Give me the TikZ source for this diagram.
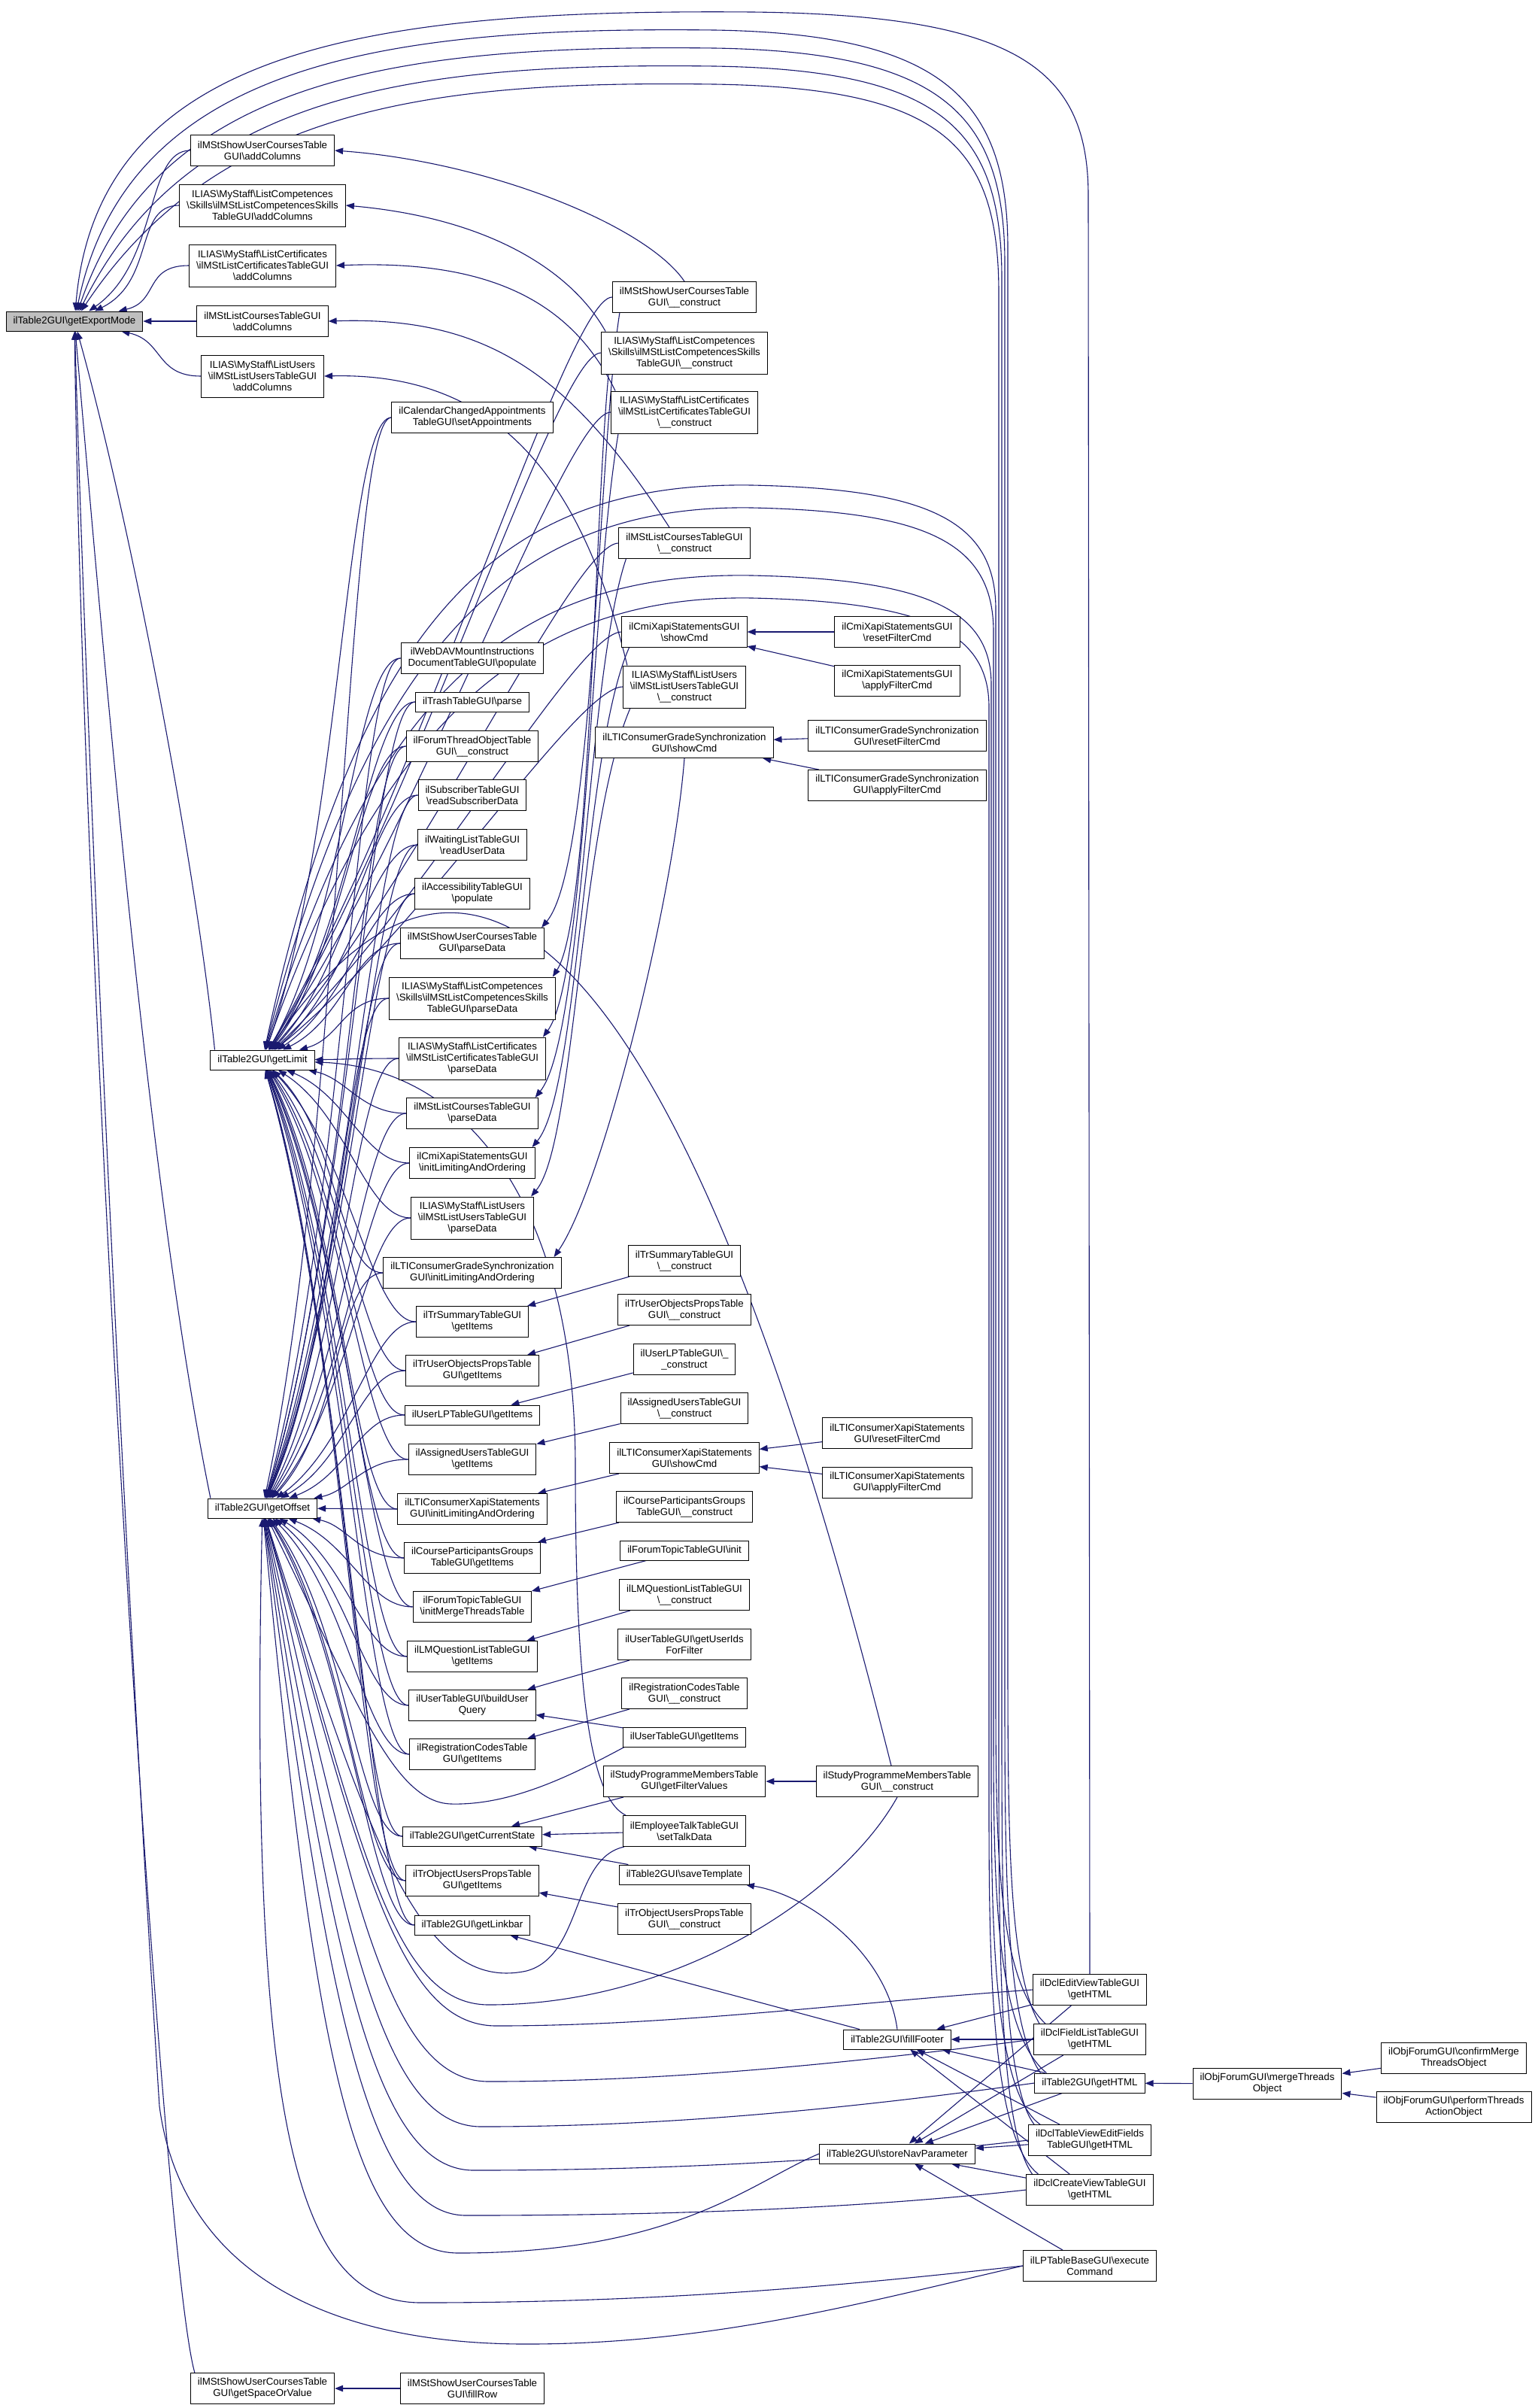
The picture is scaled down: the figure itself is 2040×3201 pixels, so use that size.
\documentclass[tikz,border=0pt]{standalone}
\usepackage{fontspec}
\setmainfont{Liberation Sans}
\usetikzlibrary{arrows.meta,calc}
\pgfdeclarelayer{bg}
\pgfsetlayers{bg,main}
\definecolor{navy}{RGB}{25,25,112}
\newcommand{\bs}{\textbackslash}
\newcommand{\fan}[2]{\draw[call] (#1.west) .. controls +(-60,0) and ($(#2.east)!0.35!(#1.west)$) .. (#2);}
\begin{document}
\begin{tikzpicture}[x=1pt,y=-1pt,
  fn/.style={draw=black,line width=1pt,fill=white,align=center,inner xsep=9.5pt,inner ysep=1pt,font=\fontsize{13.3}{15}\selectfont},
  boxa/.style={fn,minimum height=26pt},
  boxb/.style={fn,minimum height=41pt},
  boxc/.style={fn,minimum height=56pt},
  call/.style={draw=navy,line width=1.1pt,-{Triangle[length=11pt,width=8.5pt]}}]
\useasboundingbox (0,0) rectangle (2040,3201);
% ---------- nodes ----------
\node[boxa,fill=gray!50] (r) at (99,427) {ilTable2GUI\bs getExportMode};
% column B
\node[boxb] (b1) at (349,200) {ilMStShowUserCoursesTable\\GUI\bs addColumns};
\node[boxc] (b2) at (349,273) {ILIAS\bs MyStaff\bs ListCompetences\\\bs Skills\bs ilMStListCompetencesSkills\\TableGUI\bs addColumns};
\node[boxc] (b3) at (349,353) {ILIAS\bs MyStaff\bs ListCertificates\\\bs ilMStListCertificatesTableGUI\\\bs addColumns};
\node[boxb] (b4) at (349,427) {ilMStListCoursesTableGUI\\\bs addColumns};
\node[boxc] (b5) at (349,500) {ILIAS\bs MyStaff\bs ListUsers\\\bs ilMStListUsersTableGUI\\\bs addColumns};
\node[boxa] (lim) at (349,1409) {ilTable2GUI\bs getLimit};
\node[boxa] (off) at (349,2005) {ilTable2GUI\bs getOffset};
\node[boxb] (sov) at (349,3175) {ilMStShowUserCoursesTable\\GUI\bs getSpaceOrValue};
% column C
\node[boxb] (c1) at (628,555) {ilCalendarChangedAppointments\\TableGUI\bs setAppointments};
\node[boxb] (c2) at (628,875) {ilWebDAVMountInstructions\\DocumentTableGUI\bs populate};
\node[boxa] (c3) at (628,933) {ilTrashTableGUI\bs parse};
\node[boxb] (c4) at (628,992) {ilForumThreadObjectTable\\GUI\bs\_\_construct};
\node[boxb] (c5) at (628,1057) {ilSubscriberTableGUI\\\bs readSubscriberData};
\node[boxb] (c6) at (628,1123) {ilWaitingListTableGUI\\\bs readUserData};
\node[boxb] (c7) at (628,1188) {ilAccessibilityTableGUI\\\bs populate};
\node[boxb] (c8) at (628,1254) {ilMStShowUserCoursesTable\\GUI\bs parseData};
\node[boxc] (c9) at (628,1327) {ILIAS\bs MyStaff\bs ListCompetences\\\bs Skills\bs ilMStListCompetencesSkills\\TableGUI\bs parseData};
\node[boxc] (c10) at (628,1407) {ILIAS\bs MyStaff\bs ListCertificates\\\bs ilMStListCertificatesTableGUI\\\bs parseData};
\node[boxb] (c11) at (628,1480) {ilMStListCoursesTableGUI\\\bs parseData};
\node[boxb] (c12) at (628,1546) {ilCmiXapiStatementsGUI\\\bs initLimitingAndOrdering};
\node[boxc] (c13) at (628,1619) {ILIAS\bs MyStaff\bs ListUsers\\\bs ilMStListUsersTableGUI\\\bs parseData};
\node[boxb] (c14) at (628,1692) {ilLTIConsumerGradeSynchronization\\GUI\bs initLimitingAndOrdering};
\node[boxb] (c15) at (628,1757) {ilTrSummaryTableGUI\\\bs getItems};
\node[boxb] (c16) at (628,1822) {ilTrUserObjectsPropsTable\\GUI\bs getItems};
\node[boxa] (c17) at (628,1881) {ilUserLPTableGUI\bs getItems};
\node[boxb] (c18) at (628,1940) {ilAssignedUsersTableGUI\\\bs getItems};
\node[boxb] (c19) at (628,2006) {ilLTIConsumerXapiStatements\\GUI\bs initLimitingAndOrdering};
\node[boxb] (c20) at (628,2071) {ilCourseParticipantsGroups\\TableGUI\bs getItems};
\node[boxb] (c21) at (628,2136) {ilForumTopicTableGUI\\\bs initMergeThreadsTable};
\node[boxb] (c22) at (628,2202) {ilLMQuestionListTableGUI\\\bs getItems};
\node[boxb] (c23) at (628,2267) {ilUserTableGUI\bs buildUser\\Query};
\node[boxb] (c24) at (628,2332) {ilRegistrationCodesTable\\GUI\bs getItems};
\node[boxa] (c25) at (628,2441) {ilTable2GUI\bs getCurrentState};
\node[boxb] (c26) at (628,2500) {ilTrObjectUsersPropsTable\\GUI\bs getItems};
\node[boxa] (c27) at (628,2559) {ilTable2GUI\bs getLinkbar};
\node[boxb] (fr) at (628,3175) {ilMStShowUserCoursesTable\\GUI\bs fillRow};
% column D
\node[boxb] (d1) at (910,395) {ilMStShowUserCoursesTable\\GUI\bs\_\_construct};
\node[boxc] (d2) at (910,469) {ILIAS\bs MyStaff\bs ListCompetences\\\bs Skills\bs ilMStListCompetencesSkills\\TableGUI\bs\_\_construct};
\node[boxc] (d3) at (910,548) {ILIAS\bs MyStaff\bs ListCertificates\\\bs ilMStListCertificatesTableGUI\\\bs\_\_construct};
\node[boxb] (d4) at (910,722) {ilMStListCoursesTableGUI\\\bs\_\_construct};
\node[boxb] (d5) at (910,840) {ilCmiXapiStatementsGUI\\\bs showCmd};
\node[boxc] (d6) at (910,913) {ILIAS\bs MyStaff\bs ListUsers\\\bs ilMStListUsersTableGUI\\\bs\_\_construct};
\node[boxb] (d7) at (910,987) {ilLTIConsumerGradeSynchronization\\GUI\bs showCmd};
\node[boxb] (d8) at (910,1676) {ilTrSummaryTableGUI\\\bs\_\_construct};
\node[boxb] (d9) at (910,1741) {ilTrUserObjectsPropsTable\\GUI\bs\_\_construct};
\node[boxb] (d10) at (910,1807) {ilUserLPTableGUI\bs\_\\\_construct};
\node[boxb] (d11) at (910,1872) {ilAssignedUsersTableGUI\\\bs\_\_construct};
\node[boxb] (d12) at (910,1938) {ilLTIConsumerXapiStatements\\GUI\bs showCmd};
\node[boxb] (d13) at (910,2003) {ilCourseParticipantsGroups\\TableGUI\bs\_\_construct};
\node[boxa] (d14) at (910,2061) {ilForumTopicTableGUI\bs init};
\node[boxb] (d15) at (910,2120) {ilLMQuestionListTableGUI\\\bs\_\_construct};
\node[boxb] (d16) at (910,2186) {ilUserTableGUI\bs getUserIds\\ForFilter};
\node[boxb] (d17) at (910,2251) {ilRegistrationCodesTable\\GUI\bs\_\_construct};
\node[boxa] (d18) at (910,2309) {ilUserTableGUI\bs getItems};
\node[boxb] (d19) at (910,2368) {ilStudyProgrammeMembersTable\\GUI\bs getFilterValues};
\node[boxb] (d20) at (910,2434) {ilEmployeeTalkTableGUI\\\bs setTalkData};
\node[boxa] (d21) at (910,2492) {ilTable2GUI\bs saveTemplate};
\node[boxb] (d22) at (910,2551) {ilTrObjectUsersPropsTable\\GUI\bs\_\_construct};
% column E
\node[boxb] (e1) at (1193,840) {ilCmiXapiStatementsGUI\\\bs resetFilterCmd};
\node[boxb] (e2) at (1193,905) {ilCmiXapiStatementsGUI\\\bs applyFilterCmd};
\node[boxb] (e3) at (1193,978) {ilLTIConsumerGradeSynchronization\\GUI\bs resetFilterCmd};
\node[boxb] (e4) at (1193,1044) {ilLTIConsumerGradeSynchronization\\GUI\bs applyFilterCmd};
\node[boxb] (e5) at (1193,1905) {ilLTIConsumerXapiStatements\\GUI\bs resetFilterCmd};
\node[boxb] (e6) at (1193,1971) {ilLTIConsumerXapiStatements\\GUI\bs applyFilterCmd};
\node[boxb] (e7) at (1193,2368) {ilStudyProgrammeMembersTable\\GUI\bs\_\_construct};
\node[boxa] (ff) at (1193,2711) {ilTable2GUI\bs fillFooter};
\node[boxa] (snp) at (1193,2863) {ilTable2GUI\bs storeNavParameter};
% column F
\node[boxb] (f1) at (1449,2645) {ilDclEditViewTableGUI\\\bs getHTML};
\node[boxb] (f2) at (1449,2711) {ilDclFieldListTableGUI\\\bs getHTML};
\node[boxa] (f3) at (1449,2769) {ilTable2GUI\bs getHTML};
\node[boxb] (f4) at (1449,2845) {ilDclTableViewEditFields\\TableGUI\bs getHTML};
\node[boxb] (f5) at (1449,2911) {ilDclCreateViewTableGUI\\\bs getHTML};
\node[boxb] (f6) at (1449,3012) {ilLPTableBaseGUI\bs execute\\Command};
% columns G, H
\node[boxb] (g1) at (1685,2770) {ilObjForumGUI\bs mergeThreads\\Object};
\node[boxb] (h1) at (1933,2736) {ilObjForumGUI\bs confirmMerge\\ThreadsObject};
\node[boxb] (h2) at (1933,2801) {ilObjForumGUI\bs performThreads\\ActionObject};
% ---------- edges ----------
\begin{pgfonlayer}{bg}
\fill[white] (0,0) rectangle (2040,3201);
% direct callers of the root
\foreach \n in {b1,b2,b3,b4,b5} {\fan{\n}{r}}
\draw[call] ($(lim.north west)+(6,0)$) .. controls (260,1150) and (175,700) .. (r);
\draw[call] ($(off.north west)+(4,0)$) .. controls (200,1600) and (140,900) .. (r);
\draw[call] ($(sov.north west)+(6,0)$) .. controls (215,3000) and (110,1300) .. (r);
\draw[call] (f6.west) .. controls (1150,3060) and (950,3116) .. (700,3116) .. controls (420,3116) and (240,3010) .. (212,2800) .. controls (180,2300) and (125,1300) .. (r);
\draw[call] (f1.north) -- (1447,260) .. controls (1447,90) and (1350,20) .. (1000,16) .. controls (500,12) and (130,60) .. (r);
\draw[call] ($(f2.north west)+(8,0)$) .. controls (1342,2620) and (1340,2450) .. (1340,2200) -- (1340,330) .. controls (1340,130) and (1250,45) .. (950,40) .. controls (520,35) and (170,80) .. (r);
\draw[call] ($(f3.north west)+(8,0)$) .. controls (1338,2690) and (1336,2500) .. (1336,2250) -- (1336,350) .. controls (1336,150) and (1250,69) .. (950,64) .. controls (540,59) and (210,100) .. (r);
\draw[call] ($(f4.north west)+(8,0)$) .. controls (1334,2770) and (1332,2550) .. (1332,2300) -- (1332,370) .. controls (1332,170) and (1250,93) .. (950,88) .. controls (560,83) and (250,120) .. (r);
\draw[call] ($(f5.north west)+(8,0)$) .. controls (1330,2830) and (1328,2600) .. (1328,2350) -- (1328,390) .. controls (1328,190) and (1250,117) .. (950,112) .. controls (580,107) and (290,140) .. (r);
% callers of getLimit
\foreach \n in {c1,c2,c3,c4,c5,c6,c7,c8,c9,c10,c11,c12,c13,c14,c15,c16,c17,c18,c19,c20,c21,c22,c23,c24,c25,c26,c27} {\fan{\n}{lim}}
\foreach \n in {d1,d2,d3,d4,d5,d6} {\fan{\n}{lim}}
\draw[call] ($(f2.north west)+(16,0)$) .. controls (1326,2630) and (1324,2450) .. (1324,2250) -- (1324,810) .. controls (1324,690) and (1230,650) .. (1000,645) .. controls (680,640) and (480,800) .. (lim);
\draw[call] ($(f3.north west)+(16,0)$) .. controls (1323,2700) and (1321,2500) .. (1321,2300) -- (1321,840) .. controls (1321,720) and (1230,680) .. (1000,675) .. controls (690,670) and (490,850) .. (lim);
\draw[call] ($(f4.north west)+(16,0)$) .. controls (1320,2780) and (1318,2550) .. (1318,2350) -- (1318,910) .. controls (1318,810) and (1230,770) .. (1000,765) .. controls (700,760) and (500,900) .. (lim);
\draw[call] ($(f5.north west)+(16,0)$) .. controls (1317,2840) and (1315,2600) .. (1315,2400) -- (1315,940) .. controls (1315,840) and (1230,800) .. (1000,795) .. controls (710,790) and (510,950) .. (lim);
\draw[call] ($(e7.north)+(-8,0)$) .. controls (1060,1850) and (760,800) .. (lim);
\draw[call] ($(d20.north west)+(4,0)$) .. controls (785,2390) and (765,2250) .. (765,1950) .. controls (765,1600) and (620,1420) .. (lim);
% callers of getOffset
\foreach \n in {c1,c2,c3,c4,c5,c6,c7,c8,c9,c10,c11,c12,c13,c14,c15,c16,c17,c18,c19,c20,c21,c22,c23,c24,c25,c26,c27} {\fan{\n}{off}}
\draw[call] (f1.west) .. controls (1150,2660) and (900,2693) .. (660,2693) .. controls (530,2693) and (480,2480) .. (off);
\draw[call] (f2.west) .. controls (1150,2740) and (900,2767) .. (650,2767) .. controls (515,2767) and (468,2520) .. (off);
\draw[call] (f3.west) .. controls (1150,2800) and (900,2827) .. (640,2827) .. controls (505,2827) and (456,2560) .. (off);
\draw[call] (f4.west) .. controls (1150,2870) and (900,2885) .. (630,2885) .. controls (495,2885) and (444,2600) .. (off);
\draw[call] (f5.west) .. controls (1150,2935) and (900,2945) .. (620,2945) .. controls (485,2945) and (432,2640) .. (off);
\draw[call] (snp.west) .. controls (1000,2900) and (900,2995) .. (610,2995) .. controls (470,2995) and (420,2750) .. (off);
\draw[call] (f6.west) .. controls (1150,3035) and (900,3061) .. (560,3061) .. controls (400,3061) and (330,2850) .. (off);
\draw[call] (e7.south) .. controls (1120,2520) and (900,2665) .. (650,2665) .. controls (520,2665) and (480,2450) .. (off);
\draw[call] ($(d20.south west)+(2,0)$) .. controls (760,2470) and (775,2600) .. (700,2620) .. controls (560,2650) and (490,2450) .. (off);
\draw[call] ($(d18.south west)+(2,0)$) .. controls (760,2360) and (680,2400) .. (600,2398) .. controls (520,2396) and (470,2250) .. (off);
% addColumns
\draw[call] (d1.north) .. controls (860,300) and (650,215) .. (b1.east);
\draw[call] ($(d2.north west)+(6,0)$) .. controls (760,360) and (650,290) .. (b2.east);
\draw[call] ($(d3.north west)+(6,0)$) .. controls (760,400) and (650,345) .. (b3.east);
\draw[call] ($(d4.north)+(-20,0)$) .. controls (760,500) and (650,420) .. (b4.east);
\draw[call] ($(d6.north west)+(6,0)$) .. controls (770,620) and (650,495) .. (b5.east);
% parseData / initLimitingAndOrdering
\draw[call] ($(d1.south west)+(10,0)$) .. controls (795,600) and (790,1150) .. ($(c8.north east)+(-4,0)$);
\draw[call] ($(d2.south west)+(10,0)$) .. controls (790,700) and (785,1220) .. ($(c9.north east)+(-4,0)$);
\draw[call] ($(d3.south west)+(10,0)$) .. controls (785,800) and (780,1300) .. ($(c10.north east)+(-4,0)$);
\draw[call] ($(d4.south west)+(10,0)$) .. controls (780,900) and (775,1380) .. ($(c11.north east)+(-4,0)$);
\draw[call] ($(d5.south west)+(10,0)$) .. controls (775,1000) and (770,1450) .. ($(c12.north east)+(-4,0)$);
\draw[call] ($(d6.south west)+(10,0)$) .. controls (770,1100) and (765,1520) .. ($(c13.north east)+(-4,0)$);
\draw[call] (d7.south) .. controls (895,1200) and (800,1580) .. ($(c14.north east)+(-10,0)$);
% filter commands
\draw[call] (e1) -- (d5);
\draw[call] (e2) -- (d5);
\draw[call] (e3) -- (d7);
\draw[call] (e4) -- (d7);
\draw[call] (e5) -- (d12);
\draw[call] (e6) -- (d12);
% constructors to getItems etc.
\draw[call] (d8) -- (c15);
\draw[call] (d9) -- (c16);
\draw[call] (d10) -- (c17);
\draw[call] (d11) -- (c18);
\draw[call] (d12) -- (c19);
\draw[call] (d13) -- (c20);
\draw[call] (d14) -- (c21);
\draw[call] (d15) -- (c22);
\draw[call] (d16) -- (c23);
\draw[call] (d18) -- (c23);
\draw[call] (d17) -- (c24);
\draw[call] (d19) -- (c25);
\draw[call] (d20) -- (c25);
\draw[call] (d21) -- (c25);
\draw[call] (d22) -- (c26);
\draw[call] (e7) -- (d19);
\draw[call] (ff) -- (c27);
\draw[call] (ff.north) .. controls (1180,2600) and (1080,2520) .. (d21);
\draw[call] (fr) -- (sov);
% footer / nav parameter
\foreach \n in {f1,f2,f3,f4,f5} {\draw[call] (\n) -- (ff);}
\foreach \n in {f1,f2,f3,f4,f5,f6} {\draw[call] (\n) -- (snp);}
\draw[call] (g1) -- (f3);
\draw[call] (h1) -- (g1);
\draw[call] (h2) -- (g1);
\end{pgfonlayer}
\end{tikzpicture}
\end{document}
